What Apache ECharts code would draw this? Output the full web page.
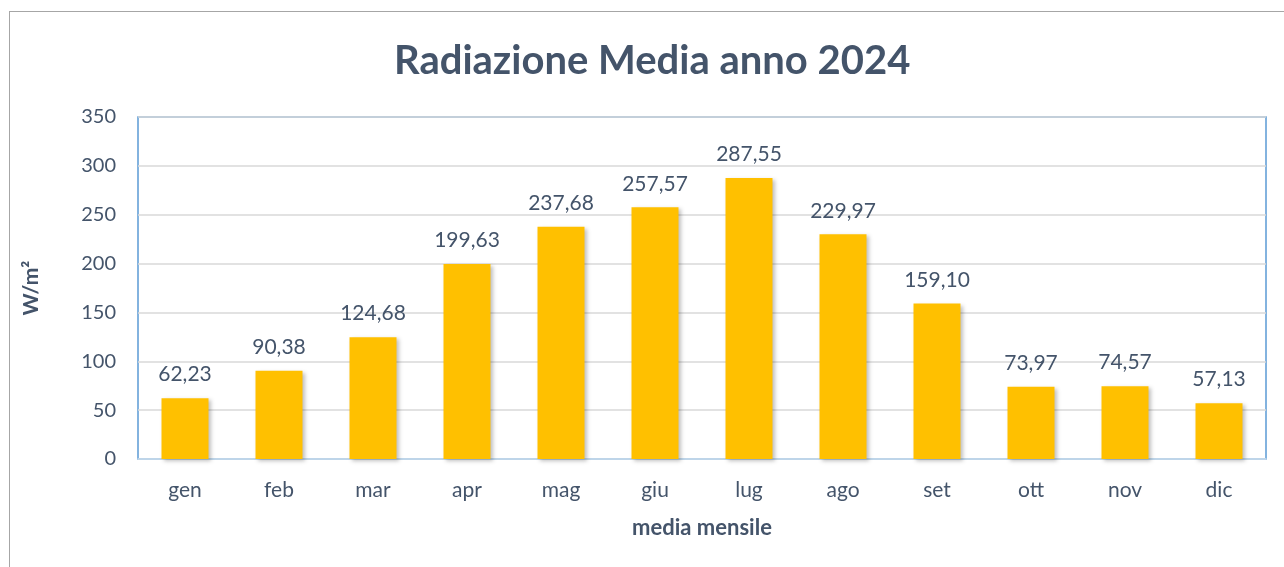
<!DOCTYPE html>
<html>
<head>
<meta charset="utf-8">
<script src="https://cdn.jsdelivr.net/npm/echarts@6/dist/echarts.min.js"></script>
<style>
  html, body { margin: 0; padding: 0; background: #fff; overflow: hidden; }
  #frame {
    position: absolute; left: 9px; top: 11px; width: 1290px; height: 570px;
    border-left: 1.5px solid #A6A6A6; border-top: 1.5px solid #A6A6A6;
  }
  #chart { position: absolute; left: 0; top: 0; width: 1284px; height: 567px; }
</style>
</head>
<body>
<div id="frame"></div>
<div id="chart"></div>
<script>
// mesi e valori medi (W/m²)
const months = ['gen', 'feb', 'mar', 'apr', 'mag', 'giu', 'lug', 'ago', 'set', 'ott', 'nov', 'dic']
const radiation = [62.23, 90.38, 124.68, 199.63, 237.68, 257.57, 287.55, 229.97, 159.10, 73.97, 74.57, 57.13]

const textColor = '#44546A'
const font = 'Lato, "Open Sans", sans-serif'

const chart = echarts.init(document.getElementById('chart'))

chart.setOption({
  animation: false,
  textStyle: { fontFamily: font },
  title: {
    text: 'Radiazione Media anno 2024',
    left: 389,
    top: 36,
    textStyle: { fontSize: 40, fontWeight: 'bold', color: textColor, fontFamily: font },
  },
  grid: {
    left: 138,
    right: 18,
    top: 117,
    bottom: 108,
    show: true,
    borderColor: '#5B9BD5',
    borderWidth: 1.5,
  },
  xAxis: {
    type: 'category',
    data: months,
    name: 'media mensile',
    nameLocation: 'middle',
    nameGap: 58,
    nameTextStyle: { fontSize: 22, fontWeight: 'bold', color: textColor },
    axisLine: { lineStyle: { color: '#BDD7EE', width: 1.5 } },
    axisTick: { show: false },
    axisLabel: { fontSize: 21, color: textColor, margin: 21 },
  },
  yAxis: {
    type: 'value',
    min: 0,
    max: 350,
    interval: 50,
    name: 'W/m²',
    nameLocation: 'middle',
    nameGap: 96,
    nameTextStyle: { fontSize: 21, fontWeight: 'bold', color: textColor },
    axisLine: { show: false },
    axisTick: { show: false },
    axisLabel: { fontSize: 20, color: textColor, margin: 22 },
    splitLine: { lineStyle: { color: '#D9D9D9', width: 1.5 } },
  },
  series: [
    {
      type: 'bar',
      data: radiation,
      barWidth: '50%',
      itemStyle: {
        color: '#FFC000',
        shadowBlur: 4,
        shadowColor: 'rgba(0,0,0,0.25)',
        shadowOffsetX: 2,
        shadowOffsetY: 2,
      },
      label: {
        show: true,
        position: 'top',
        distance: 13,
        fontSize: 21,
        color: textColor,
        formatter: (p) => p.value.toFixed(2).replace('.', ','),
      },
    },
  ],
})
</script>
</body>
</html>
